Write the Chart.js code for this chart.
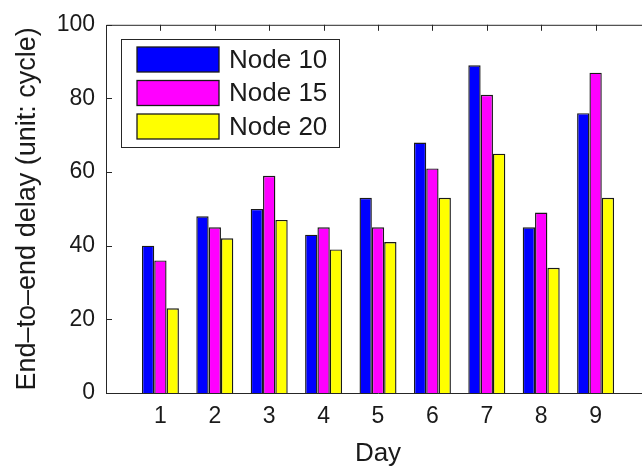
<!DOCTYPE html>
<html>
<head>
<meta charset="utf-8">
<script src="https://cdn.jsdelivr.net/npm/chart.js@4/dist/chart.umd.min.js"></script>
<style>
  html, body { margin: 0; padding: 0; background: #fff; overflow: hidden; }
  #wrap { width: 642px; height: 467px; overflow: hidden; }
  canvas { display: block; }
</style>
</head>
<body>
<div id="wrap"><canvas id="c" width="660" height="467"></canvas></div>
<script>
// ---- data ----
const days = [1, 2, 3, 4, 5, 6, 7, 8, 9];
const node10 = [40, 48, 50, 43, 53, 68, 89, 45, 76];
const node15 = [36, 45, 59, 45, 45, 61, 81, 49, 87];
const node20 = [23, 42, 47, 39, 41, 53, 65, 34, 53];
const seriesLabels = ['Node 10', 'Node 15', 'Node 20'];
const seriesColors = ['#0000FF', '#FF00FF', '#FFFF00'];
const yTicks = [0, 20, 40, 60, 80, 100];
const xTitle = 'Day';
const yTitle = 'End\u2013to\u2013end delay (unit: cycle)';

const FONT = "'Liberation Sans', Arial, sans-serif";
const INK = '#1a1a1a';

const toPoints = arr => days.map((d, i) => ({ x: d, y: arr[i] }));
const seriesData = [node10, node15, node20];

const framePlugin = {
  id: 'frame',
  beforeDatasetsDraw(chart) {
    const { ctx, chartArea: a, scales } = chart;
    ctx.save();
    ctx.strokeStyle = '#262626';
    ctx.lineWidth = 1;
    ctx.beginPath();
    ctx.rect(a.left + 0.5, a.top + 0.5, a.right - a.left, a.bottom - a.top);
    ctx.stroke();
    const tl = 6;
    ctx.beginPath();
    yTicks.forEach(v => {
      const y = Math.round(scales.y.getPixelForValue(v)) + 0.5;
      ctx.moveTo(a.left, y); ctx.lineTo(a.left + tl, y);
      ctx.moveTo(a.right, y); ctx.lineTo(a.right - tl, y);
    });
    days.forEach(d => {
      const x = Math.round(scales.x.getPixelForValue(d)) + 0.5;
      ctx.moveTo(x, a.top); ctx.lineTo(x, a.top + tl);
      ctx.moveTo(x, a.bottom); ctx.lineTo(x, a.bottom - tl);
    });
    ctx.stroke();
    ctx.restore();
  },
  afterDraw(chart) {
    const { ctx } = chart;
    const bx = 121, by = 39, bw = 218, bh = 108;
    ctx.save();
    ctx.fillStyle = '#fff';
    ctx.fillRect(bx, by, bw, bh);
    ctx.strokeStyle = '#262626';
    ctx.lineWidth = 1;
    ctx.strokeRect(bx + 0.5, by + 0.5, bw, bh);
    chart.data.datasets.forEach((ds, i) => {
      const sy = 47 + i * 33.5;
      ctx.fillStyle = ds.backgroundColor;
      ctx.fillRect(137, sy, 82, 25);
      ctx.strokeStyle = '#1a1a1a';
      ctx.lineWidth = 1.3;
      ctx.strokeRect(137, sy, 82, 25);
      ctx.fillStyle = INK;
      ctx.font = '26px ' + FONT;
      ctx.textBaseline = 'middle';
      ctx.textAlign = 'left';
      ctx.fillText(ds.label, 229, sy + 13.5);
    });
    ctx.restore();
  }
};

new Chart(document.getElementById('c'), {
  type: 'bar',
  data: {
    datasets: seriesData.map((arr, i) => ({
      label: seriesLabels[i],
      data: toPoints(arr),
      backgroundColor: seriesColors[i],
      borderColor: '#1a1a1a',
      borderWidth: 1.4,
      borderSkipped: 'start',
      categoryPercentage: 0.68,
      barPercentage: 1.0
    }))
  },
  options: {
    responsive: false,
    animation: false,
    devicePixelRatio: 1,
    layout: { padding: { top: 24, right: 9, left: 0, bottom: 0 } },
    plugins: { legend: { display: false }, tooltip: { enabled: false } },
    scales: {
      x: {
        type: 'linear',
        min: 0, max: 10,
        offset: false,
        grid: { display: false, drawTicks: false },
        border: { display: false },
        ticks: {
          stepSize: 1,
          autoSkip: false,
          padding: 10,
          color: INK,
          font: { family: FONT, size: 23 },
          callback: v => (days.includes(v) ? String(v) : '')
        },
        title: {
          display: true, text: xTitle, color: INK,
          font: { family: FONT, size: 26, lineHeight: 1 },
          padding: { top: 0, bottom: 0 }
        },
        afterFit: s => { s.height = 74; }
      },
      y: {
        min: 0, max: 100,
        grid: { display: false, drawTicks: false },
        border: { display: false },
        afterBuildTicks: s => { s.ticks = yTicks.map(v => ({ value: v })); },
        ticks: {
          padding: 11,
          color: INK,
          font: { family: FONT, size: 23 }
        },
        title: {
          display: true, text: yTitle, color: INK,
          font: { family: FONT, size: 27, lineHeight: 1 },
          padding: { top: 14, bottom: 0 }
        },
        afterFit: s => { s.width = 106; }
      }
    }
  },
  plugins: [framePlugin]
});
</script>
</body>
</html>
